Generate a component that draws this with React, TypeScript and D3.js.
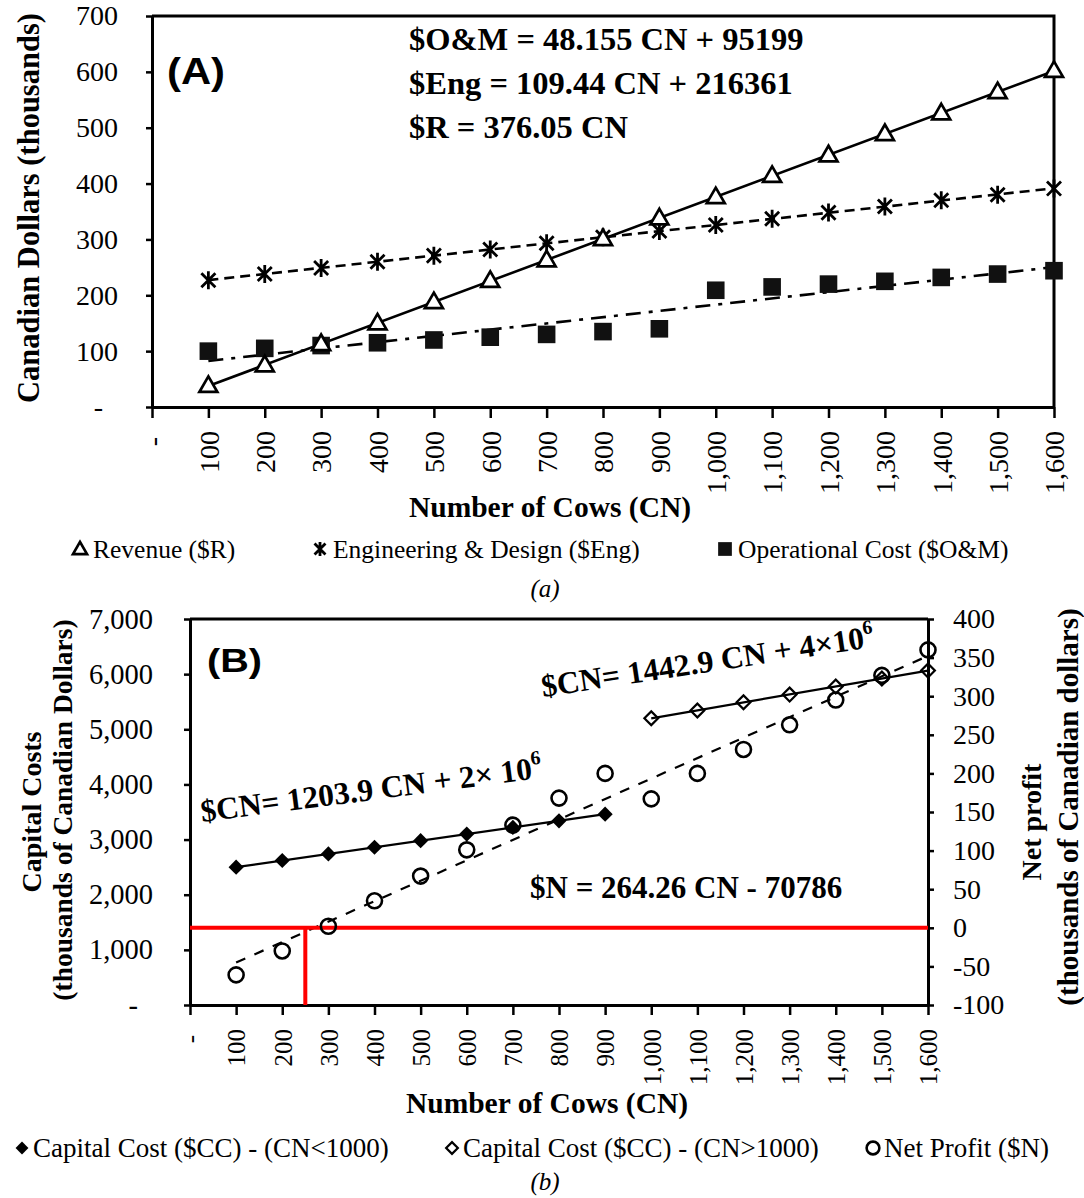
import React, { useEffect, useRef } from 'react';
import * as d3 from 'd3';

// ---- data (thousands of CAD) ----
const cows = [100, 200, 300, 400, 500, 600, 700, 800, 900, 1000, 1100, 1200, 1300, 1400, 1500, 1600];
const xTickValues = [0, 100, 200, 300, 400, 500, 600, 700, 800, 900, 1000, 1100, 1200, 1300, 1400, 1500, 1600];

const revenue = [38, 75, 113, 150, 188, 226, 263, 301, 338, 376, 414, 451, 489, 526, 564, 602];
const engineering = [227, 238, 249, 260, 271, 282, 293, 304, 315, 326, 337, 348, 359, 370, 380, 391];
const operational = [100, 105, 110, 115, 120, 125, 130, 135, 140, 209, 215, 220, 225, 232, 238, 244];
const yTicksA = [0, 100, 200, 300, 400, 500, 600, 700];
const equationsA = ['$O&M = 48.155 CN + 95199', '$Eng = 109.44 CN + 216361', '$R = 376.05 CN'];

const cowsLow = [100, 200, 300, 400, 500, 600, 700, 800, 900];
const capitalLow = [2500, 2620, 2740, 2860, 2980, 3100, 3220, 3340, 3460];
const cowsHigh = [1000, 1100, 1200, 1300, 1400, 1500, 1600];
const capitalHigh = [5200, 5340, 5490, 5630, 5775, 5920, 6065];
const netProfit = [-61, -30, 2, 35, 67, 101, 133, 168, 200, 167, 200, 231, 263, 295, 327, 360];
const yTicksCapital = [0, 1000, 2000, 3000, 4000, 5000, 6000, 7000];
const yTicksNet = [-100, -50, 0, 50, 100, 150, 200, 250, 300, 350, 400];
const breakEvenCows = 250;

const SERIF = "'Liberation Serif', 'Times New Roman', Times, serif";
const SANS = "'Liberation Sans', Arial, sans-serif";

// least squares trendline, like the spreadsheet did
function linearFit(xs: number[], ys: number[]) {
  const mx = d3.mean(xs) as number;
  const my = d3.mean(ys) as number;
  let num = 0, den = 0;
  xs.forEach((x, i) => { num += (x - mx) * (ys[i] - my); den += (x - mx) * (x - mx); });
  const slope = num / den;
  return (x: number) => my + slope * (x - mx);
}

function starPath(r: number) {
  const p = d3.path();
  const d = r * 0.78;
  p.moveTo(0, -r); p.lineTo(0, r);
  p.moveTo(-d, -d); p.lineTo(d, d);
  p.moveTo(-d, d); p.lineTo(d, -d);
  return p.toString();
}

const fmtDash = (v: any) => (v === 0 ? '-' : d3.format(',')(v));

function App() {
  const ref = useRef<SVGSVGElement>(null);

  useEffect(() => {
    const svg = d3.select(ref.current);
    svg.selectAll('*').remove();

    const marker = (g: any, type: string, x: number, y: number, s = 1) => {
      if (type === 'triangle') {
        g.append('path').attr('d', d3.symbol().type(d3.symbolTriangle).size(140 * s * s)())
          .attr('transform', `translate(${x},${y + 1})`)
          .attr('fill', '#fff').attr('stroke', '#000').attr('stroke-width', 2.7);
      } else if (type === 'star') {
        g.append('path').attr('d', starPath(9 * s))
          .attr('transform', `translate(${x},${y})`)
          .attr('stroke', '#000').attr('stroke-width', 2.8).attr('fill', 'none');
      } else if (type === 'square') {
        g.append('path').attr('d', d3.symbol().type(d3.symbolSquare).size(310 * s * s)())
          .attr('transform', `translate(${x},${y})`).attr('fill', '#111');
      } else if (type === 'diamond') {
        g.append('path').attr('d', d3.symbol().type(d3.symbolSquare).size(115 * s * s)())
          .attr('transform', `translate(${x},${y}) rotate(45)`).attr('fill', '#000');
      } else if (type === 'diamondOpen') {
        g.append('path').attr('d', d3.symbol().type(d3.symbolSquare).size(95 * s * s)())
          .attr('transform', `translate(${x},${y}) rotate(45)`)
          .attr('fill', 'none').attr('stroke', '#000').attr('stroke-width', 2.2);
      } else if (type === 'circle') {
        g.append('circle').attr('cx', x).attr('cy', y).attr('r', 7.5 * s)
          .attr('fill', 'none').attr('stroke', '#000').attr('stroke-width', 2.6);
      }
    };

    const styleAxis = (g: any, size: number) => {
      g.attr('font-size', size).attr('font-family', SERIF);
      g.select('.domain').attr('stroke', '#000').attr('stroke-width', 3);
      g.selectAll('.tick line').attr('stroke', '#000').attr('stroke-width', 2.5);
      g.selectAll('.tick text').attr('fill', '#000');
    };

    const rotateXLabels = (g: any, gap: number) => {
      g.selectAll('.tick text')
        .attr('transform', 'rotate(-90)')
        .attr('text-anchor', 'end')
        .attr('x', -gap)
        .attr('y', 0)
        .attr('dy', '0.35em');
      g.selectAll('.tick text').filter((d: any) => d === 0).attr('x', -gap - 6);
    };

    // ================= Panel A =================
    const xA = d3.scaleLinear().domain([0, 1600]).range([152, 1054]);
    const yA = d3.scaleLinear().domain([0, 700]).range([407, 16]);
    const gA = svg.append('g');

    gA.append('path')
      .attr('d', `M${xA(0)},${yA(700)}H${xA(1600)}V${yA(0)}`)
      .attr('fill', 'none').attr('stroke', '#000').attr('stroke-width', 3);

    const axLA = gA.append('g').attr('transform', `translate(${xA(0)},0)`)
      .call(d3.axisLeft(yA).tickValues(yTicksA).tickSize(6).tickSizeOuter(0).tickPadding(28).tickFormat(fmtDash));
    styleAxis(axLA, 28);
    axLA.selectAll('.tick text').filter((d: any) => d === 0).attr('dx', -15);

    const axBA = gA.append('g').attr('transform', `translate(0,${yA(0)})`)
      .call(d3.axisBottom(xA).tickValues(xTickValues).tickSize(11).tickSizeOuter(0).tickFormat(fmtDash));
    styleAxis(axBA, 28);
    rotateXLabels(axBA, 24);

    const seriesA = [
      { values: engineering, dash: '10,6', type: 'star' },
      { values: operational, dash: '15,8,4,8', type: 'square' },
      { values: revenue, dash: null, type: 'triangle' },
    ];
    seriesA.forEach((s) => {
      const f = linearFit(cows, s.values);
      const ln = d3.line<number>().x((d) => xA(d)).y((d) => yA(f(d)));
      gA.append('path').attr('d', ln(d3.extent(cows) as number[]))
        .attr('fill', 'none').attr('stroke', '#000').attr('stroke-width', 2.6)
        .attr('stroke-dasharray', s.dash);
    });
    seriesA.forEach((s) => {
      cows.forEach((c, i) => marker(gA, s.type, xA(c), yA(s.values[i])));
    });

    gA.append('text').text('(A)').attr('x', 167).attr('y', 84)
      .attr('font-family', SANS).attr('font-weight', 'bold').attr('font-size', 36)
      .attr('textLength', 58).attr('lengthAdjust', 'spacingAndGlyphs');

    equationsA.forEach((t, i) => {
      gA.append('text').text(t).attr('x', 409).attr('y', 50 + i * 44)
        .attr('font-family', SERIF).attr('font-weight', 'bold').attr('font-size', 32.5);
    });

    gA.append('text').text('Canadian Dollars (thousands)')
      .attr('transform', 'translate(28,208) rotate(-90)')
      .attr('text-anchor', 'middle').attr('dy', '0.35em')
      .attr('font-family', SERIF).attr('font-weight', 'bold').attr('font-size', 30.5);

    gA.append('text').text('Number of Cows (CN)').attr('x', 550).attr('y', 517)
      .attr('text-anchor', 'middle')
      .attr('font-family', SERIF).attr('font-weight', 'bold').attr('font-size', 29.5);

    const legendA = [
      { type: 'triangle', label: 'Revenue ($R)', x: 80 },
      { type: 'star', label: 'Engineering & Design ($Eng)', x: 320 },
      { type: 'square', label: 'Operational Cost ($O&M)', x: 725 },
    ];
    legendA.forEach((l) => {
      marker(gA, l.type, l.x, 549, 0.78);
      gA.append('text').text(l.label).attr('x', l.x + 13).attr('y', 549).attr('dy', '0.35em')
        .attr('font-family', SERIF).attr('font-size', 25.5);
    });

    gA.append('text').text('(a)').attr('x', 545).attr('y', 597).attr('text-anchor', 'middle')
      .attr('font-family', SERIF).attr('font-style', 'italic').attr('font-size', 25);

    // ================= Panel B =================
    const xB = d3.scaleLinear().domain([0, 1600]).range([190, 928]);
    const yB = d3.scaleLinear().domain([0, 7000]).range([1005, 619]);
    const yN = d3.scaleLinear().domain([-100, 400]).range([1005, 619]);
    const gB = svg.append('g');

    gB.append('path')
      .attr('d', `M${xB(0)},${yB(7000)}H${xB(1600)}`)
      .attr('fill', 'none').attr('stroke', '#000').attr('stroke-width', 3);

    const axLB = gB.append('g').attr('transform', `translate(${xB(0)},0)`)
      .call(d3.axisLeft(yB).tickValues(yTicksCapital).tickSize(6).tickSizeOuter(0).tickPadding(31).tickFormat(fmtDash));
    styleAxis(axLB, 28.5);
    axLB.selectAll('.tick text').filter((d: any) => d === 0).attr('dx', -15);

    const axRB = gB.append('g').attr('transform', `translate(${xB(1600)},0)`)
      .call(d3.axisRight(yN).tickValues(yTicksNet).tickSize(6).tickSizeOuter(0).tickPadding(19).tickFormat((d: any) => String(d)));
    styleAxis(axRB, 28);

    const axBB = gB.append('g').attr('transform', `translate(0,${yB(0)})`)
      .call(d3.axisBottom(xB).tickValues(xTickValues).tickSize(10).tickSizeOuter(0).tickFormat(fmtDash));
    styleAxis(axBB, 25);
    rotateXLabels(axBB, 24);

    // trendlines
    const fitLow = linearFit(cowsLow, capitalLow);
    const fitHigh = linearFit(cowsHigh, capitalHigh);
    const fitNet = linearFit(cows, netProfit);
    gB.append('path')
      .attr('d', d3.line<number>().x((d) => xB(d)).y((d) => yN(fitNet(d)))(d3.extent(cows) as number[]))
      .attr('fill', 'none').attr('stroke', '#000').attr('stroke-width', 2.2).attr('stroke-dasharray', '10,10');
    gB.append('path')
      .attr('d', d3.line<number>().x((d) => xB(d)).y((d) => yB(fitLow(d)))(d3.extent(cowsLow) as number[]))
      .attr('fill', 'none').attr('stroke', '#000').attr('stroke-width', 2.2);
    gB.append('path')
      .attr('d', d3.line<number>().x((d) => xB(d)).y((d) => yB(fitHigh(d)))(d3.extent(cowsHigh) as number[]))
      .attr('fill', 'none').attr('stroke', '#000').attr('stroke-width', 2.2);

    // break-even lines
    gB.append('path')
      .attr('d', `M${xB(0)},${yN(0)}H${xB(1600)}M${xB(breakEvenCows)},${yN(0)}V${yN(-100)}`)
      .attr('fill', 'none').attr('stroke', '#ff0000').attr('stroke-width', 4);

    cowsLow.forEach((c, i) => marker(gB, 'diamond', xB(c), yB(capitalLow[i])));
    cowsHigh.forEach((c, i) => marker(gB, 'diamondOpen', xB(c), yB(capitalHigh[i])));
    cows.forEach((c, i) => marker(gB, 'circle', xB(c), yN(netProfit[i])));

    gB.append('text').text('(B)').attr('x', 207).attr('y', 672)
      .attr('font-family', SANS).attr('font-weight', 'bold').attr('font-size', 34)
      .attr('textLength', 55).attr('lengthAdjust', 'spacingAndGlyphs');

    const eqLow = gB.append('text').attr('transform', 'translate(202,822) rotate(-7.4)')
      .attr('font-family', SERIF).attr('font-weight', 'bold').attr('font-size', 31.5);
    eqLow.append('tspan').text('$CN= 1203.9 CN + 2\u00d7 10');
    eqLow.append('tspan').text('6').attr('font-size', 20).attr('dy', -14);

    const eqHigh = gB.append('text').attr('transform', 'translate(543,697) rotate(-8.6)')
      .attr('font-family', SERIF).attr('font-weight', 'bold').attr('font-size', 31.5);
    eqHigh.append('tspan').text('$CN= 1442.9 CN + 4\u00d710');
    eqHigh.append('tspan').text('6').attr('font-size', 20).attr('dy', -14);

    gB.append('text').text('$N = 264.26 CN - 70786').attr('x', 530).attr('y', 898)
      .attr('font-family', SERIF).attr('font-weight', 'bold').attr('font-size', 31);

    const rotLabel = (t: string, x: number, y: number, size: number) =>
      gB.append('text').text(t).attr('transform', `translate(${x},${y}) rotate(-90)`)
        .attr('text-anchor', 'middle').attr('dy', '0.35em')
        .attr('font-family', SERIF).attr('font-weight', 'bold').attr('font-size', size);
    rotLabel('Capital Costs', 31, 812, 28);
    rotLabel('(thousands of Canadian Dollars)', 62, 810, 27.5);
    rotLabel('Net profit', 1031, 822, 28);
    rotLabel('(thousands of Canadian dollars)', 1068, 807, 29);

    gB.append('text').text('Number of Cows (CN)').attr('x', 547).attr('y', 1113)
      .attr('text-anchor', 'middle')
      .attr('font-family', SERIF).attr('font-weight', 'bold').attr('font-size', 29.5);

    const legendB = [
      { type: 'diamond', label: 'Capital Cost ($CC) - (CN<1000)', x: 22 },
      { type: 'diamondOpen', label: 'Capital Cost ($CC) - (CN>1000)', x: 452 },
      { type: 'circle', label: 'Net Profit ($N)', x: 873 },
    ];
    legendB.forEach((l) => {
      marker(gB, l.type, l.x, 1148, 0.85);
      gB.append('text').text(l.label).attr('x', l.x + 11).attr('y', 1148).attr('dy', '0.35em')
        .attr('font-family', SERIF).attr('font-size', 27);
    });

    gB.append('text').text('(b)').attr('x', 545).attr('y', 1190).attr('text-anchor', 'middle')
      .attr('font-family', SERIF).attr('font-style', 'italic').attr('font-size', 25);
  }, []);

  return (
    <svg ref={ref} width={1084} height={1198}
      style={{ position: 'absolute', left: 0, top: 0, background: '#fff' }} />
  );
}

export default App;
